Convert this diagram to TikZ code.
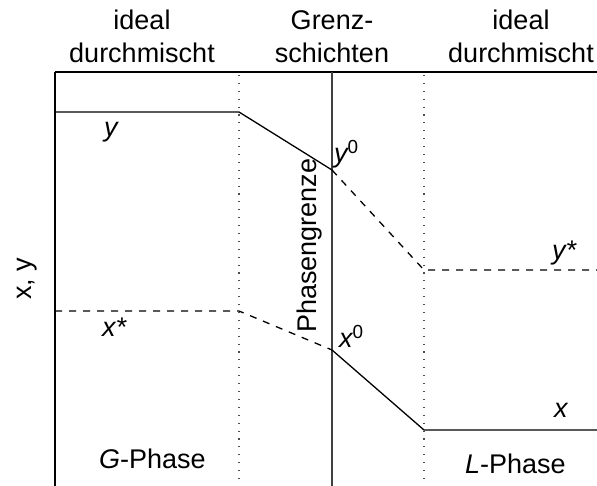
\documentclass[tikz,border=0pt]{standalone}
\usepackage{fontspec}
\setmainfont{Liberation Sans}
\begin{document}
\begin{tikzpicture}[x=1pt,y=-1pt,
  lbl/.style={inner sep=0pt,font=\fontsize{27}{33}\selectfont},
  head/.style={lbl,align=center,anchor=north},
  var/.style={lbl,anchor=base west,font=\fontsize{27}{33}\selectfont\itshape},
  frame/.style={line width=1.3pt},
  solidc/.style={line width=1.3pt},
  dashc/.style={line width=1.3pt,dash pattern=on 7pt off 7pt},
  dotv/.style={line width=1.2pt,dash pattern=on 1.1pt off 6.8pt,black!70},
  bound/.style={line width=1.6pt,black!75}]
\useasboundingbox (0,0) rectangle (597,486);
% frame coordinates
\coordinate (tl) at (55,72);
\coordinate (tr) at (597,72);
\coordinate (bl) at (55,486);
\coordinate (d1t) at (239,75);
\coordinate (d1b) at (239,486);
\coordinate (d2t) at (424,75);
\coordinate (d2b) at (424,486);
\coordinate (pbt) at (332,72);
\coordinate (pbb) at (332,486);
% curve points
\coordinate (y0) at (55,112);
\coordinate (y1) at (239,112);
\coordinate (y2) at (332,170);
\coordinate (y3) at (424,270);
\coordinate (y4) at (597,270);
\coordinate (x0) at (55,311);
\coordinate (x1) at (239,311);
\coordinate (x2) at (332,350);
\coordinate (x3) at (424,430);
\coordinate (x4) at (597,430);
% frame
\draw[frame] (tl) -- (tr);
\draw[frame] (tl) -- (bl);
\draw[dotv] (d1t) -- (d1b);
\draw[dotv] (d2t) -- (d2b);
\draw[bound] (pbt) -- (pbb);
% curves
\draw[solidc] (y0) -- (y1) -- (y2);
\draw[dashc] (y2) -- (y3) -- (y4);
\draw[dashc] (x0) -- (x1) -- (x2);
\draw[solidc] (x2) -- (x3) -- (x4);
% headings
\node[head] (h1) at (142,10) {ideal\\durchmischt};
\node[head] (h2) at (332,10) {Grenz-\\schichten};
\node[head] (h3) at (521,10) {ideal\\durchmischt};
% labels
\node[var] (ly) at (104,137) {y};
\node[var] (ly0) at (334,163) {y\textsuperscript{\upshape 0}};
\node[var] (lys) at (552,260) {y*};
\node[var] (lxs) at (102,337) {x*};
\node[var] (lx0) at (339,348) {x\textsuperscript{\upshape 0}};
\node[var] (lx) at (554,417) {x};
\node[lbl,anchor=base west,rotate=90] (pg) at (316,333) {Phasengrenze};
\node[lbl,anchor=base west,rotate=90] (xy) at (31,300) {x, y};
\node[lbl,anchor=base west] (gp) at (99,468) {\textit{G}-Phase};
\node[lbl,anchor=base west] (lp) at (465,473) {\textit{L}-Phase};
\end{tikzpicture}
\end{document}
